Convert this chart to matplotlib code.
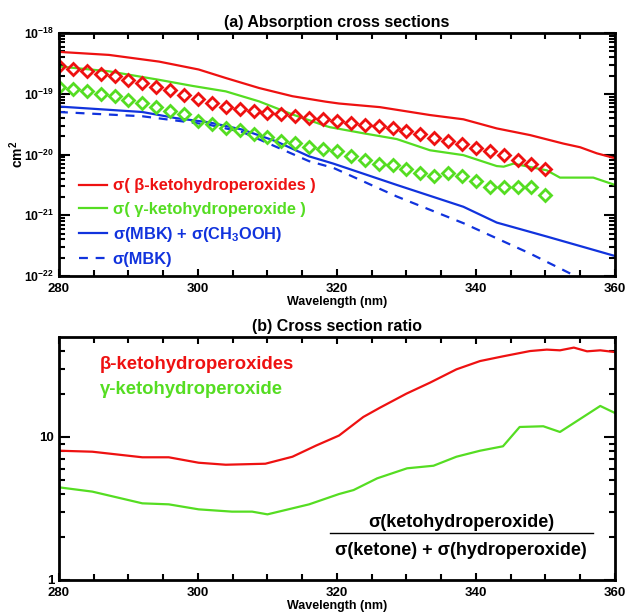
import numpy as np
import matplotlib
matplotlib.use("Agg")
import matplotlib.pyplot as plt
from matplotlib.ticker import LogLocator, MultipleLocator, FixedLocator, NullFormatter, FuncFormatter

plt.rcParams['font.family'] = ['Liberation Sans', 'DejaVu Sans']
plt.rcParams['font.weight'] = 'bold'
plt.rcParams['mathtext.fontset'] = 'custom'
plt.rcParams['mathtext.rm'] = 'Liberation Sans:bold'
plt.rcParams['mathtext.bf'] = 'Liberation Sans:bold'
plt.rcParams['mathtext.it'] = 'Liberation Sans:bold'

RED = '#EE1111'
GREEN = '#55DD22'
BLUE = '#1133DD'

# ---------------- Panel (a) data (log10 of cross section, cm^2) ----------------
beta_line_wl = [280, 287.2, 294.4, 300.1, 304, 308.8, 313.6, 318.4, 320.3, 326.2, 333.4, 338.2, 343.0, 347.8, 352.6, 355.0, 357.4, 360]
beta_line_log = [-18.31, -18.36, -18.47, -18.60, -18.74, -18.905, -19.04, -19.13, -19.16, -19.22, -19.35, -19.42, -19.57, -19.68, -19.82, -19.88, -19.98, -20.06]

gamma_line_wl = [280, 287.2, 294.4, 299.2, 304, 308.8, 313.6, 318.4, 319, 323.8, 328.6, 333.4, 338.2, 343, 344, 345.4, 350.2, 352.1, 356.9, 360]
gamma_line_log = [-18.55, -18.63, -18.77, -18.87, -18.96, -19.125, -19.34, -19.53, -19.55, -19.65, -19.745, -19.93, -20.01, -20.19, -20.20, -20.15, -20.26, -20.38, -20.38, -20.50]

mbk_ch3ooh_wl = [280, 292, 296.8, 301.6, 306.4, 311.2, 316, 319.5, 328.6, 338.2, 343, 350.2, 360]
mbk_ch3ooh_log = [-19.21, -19.30, -19.40, -19.47, -19.59, -19.78, -20.03, -20.15, -20.50, -20.86, -21.12, -21.35, -21.67]

mbk_wl = [280, 292, 296.8, 301.6, 306.4, 311.2, 316, 319.5, 328.6, 338.2, 347.8, 353.6, 356]
mbk_log = [-19.30, -19.37, -19.44, -19.51, -19.63, -19.87, -20.11, -20.22, -20.69, -21.13, -21.63, -21.96, -22.1]

diamond_wl = list(range(280, 351, 2))
beta_diamond_log = [-18.55, -18.59, -18.63, -18.67, -18.71, -18.77, -18.82, -18.88, -18.94, -19.015,
                    -19.09, -19.15, -19.22, -19.25, -19.29, -19.32, -19.34, -19.37, -19.40, -19.42,
                    -19.44, -19.48, -19.51, -19.53, -19.57, -19.61, -19.66, -19.72, -19.77, -19.83,
                    -19.89, -19.95, -20.01, -20.09, -20.16, -20.23]
gamma_diamond_log = [-18.88, -18.92, -18.96, -19.00, -19.04, -19.10, -19.15, -19.21, -19.29, -19.34,
                     -19.44, -19.49, -19.56, -19.60, -19.67, -19.71, -19.77, -19.81, -19.87, -19.91,
                     -19.95, -20.02, -20.09, -20.15, -20.18, -20.23, -20.30, -20.35, -20.30, -20.35,
                     -20.43, -20.53, -20.53, -20.53, -20.53, -20.66]

# ---------------- Panel (b) data (log10 of ratio) ----------------
beta_ratio_wl = [280, 284.8, 292, 295.8, 300.1, 304, 309.7, 313.6, 317, 320.3, 323.8, 326.2, 330.0, 333.4, 337.2, 340.6, 343.9, 347.8, 350.2, 352.1, 354.1, 356, 357.9, 360]
beta_ratio_log = [0.904, 0.897, 0.858, 0.858, 0.820, 0.806, 0.813, 0.862, 0.94, 1.01, 1.14, 1.205, 1.303, 1.380, 1.473, 1.531, 1.564, 1.601, 1.611, 1.606, 1.625, 1.599, 1.606, 1.594]

gamma_ratio_wl = [280, 284.8, 292, 295.8, 300.1, 304.9, 307.8, 310, 316, 320.3, 322.4, 325.8, 330.1, 333.9, 337.2, 340.6, 343.9, 346.3, 349.7, 352.1, 357.9, 360]
gamma_ratio_log = [0.648, 0.618, 0.536, 0.529, 0.494, 0.478, 0.478, 0.459, 0.529, 0.601, 0.629, 0.711, 0.781, 0.799, 0.862, 0.904, 0.935, 1.070, 1.075, 1.035, 1.217, 1.168]

xticks = [280, 300, 320, 340, 360]

fig = plt.figure(figsize=(6.26, 6.12), dpi=100)
ax1 = fig.add_axes([0.0942, 0.549, 0.888, 0.397])
ax2 = fig.add_axes([0.0942, 0.0523, 0.888, 0.397])

def p(v):
    return 10.0 ** np.asarray(v)

lw = 1.6
ax1.plot(beta_line_wl, p(beta_line_log), color=RED, lw=lw, label=r'σ( β-ketohydroperoxides )')
ax1.plot(gamma_line_wl, p(gamma_line_log), color=GREEN, lw=lw, label=r'σ( γ-ketohydroperoxide )')
ax1.plot(mbk_ch3ooh_wl, p(mbk_ch3ooh_log), color=BLUE, lw=lw, label=r'σ(MBK) + σ(CH$_3$OOH)')
ax1.plot(mbk_wl, p(mbk_log), color=BLUE, lw=lw, ls=(0, (4, 3.5)), label=r'σ(MBK)')
ax1.plot(diamond_wl, p(beta_diamond_log), ls='none', marker='D', ms=6.5, mfc='none', mec=RED, mew=2.0)
ax1.plot(diamond_wl, p(gamma_diamond_log), ls='none', marker='D', ms=6.5, mfc='none', mec=GREEN, mew=2.0)

ax1.set_yscale('log')
ax1.set_ylim(1e-22, 1e-18)
ax1.set_xlim(280, 360)

def logfmt(v, pos):
    e = int(round(np.log10(v)))
    return r'$\mathbf{10^{%d}}$' % e

ax1.yaxis.set_major_locator(LogLocator(base=10, numticks=10))
ax1.yaxis.set_minor_locator(LogLocator(base=10, subs=np.arange(2, 10), numticks=50))
ax1.yaxis.set_major_formatter(FuncFormatter(logfmt))
ax1.yaxis.set_minor_formatter(NullFormatter())
ax1.set_ylabel(r'cm$^2$', fontsize=10, fontweight='bold')
ax1.yaxis.set_label_coords(-0.06, 0.5)
ax1.set_xlabel('Wavelength (nm)', fontsize=9, fontweight='bold', labelpad=1)
ax1.set_title('(a) Absorption cross sections', fontsize=11.5, fontweight='bold', pad=4)

leg = ax1.legend(loc='lower left', bbox_to_anchor=(0.02, 0.0), frameon=False, fontsize=11.8,
                 handlelength=1.7, handletextpad=0.35, labelspacing=0.5, borderaxespad=0.15)
for txt, col in zip(leg.get_texts(), [RED, GREEN, BLUE, BLUE]):
    txt.set_color(col)
    txt.set_fontweight('bold')

ax2.plot(beta_ratio_wl, p(beta_ratio_log), color=RED, lw=lw)
ax2.plot(gamma_ratio_wl, p(gamma_ratio_log), color=GREEN, lw=lw)
ax2.set_yscale('log')
ax2.set_ylim(1, 50)
ax2.set_xlim(280, 360)
ax2.yaxis.set_major_locator(FixedLocator([1, 10]))
ax2.yaxis.set_minor_locator(FixedLocator([2, 3, 4, 5, 6, 7, 8, 9, 20, 30, 40]))
ax2.yaxis.set_major_formatter(FuncFormatter(lambda v, pos: '%d' % v))
ax2.yaxis.set_minor_formatter(NullFormatter())
ax2.set_xlabel('Wavelength (nm)', fontsize=9, fontweight='bold', labelpad=1)
ax2.set_title('(b) Cross section ratio', fontsize=11.5, fontweight='bold', pad=4)

ax2.text(0.073, 0.888, 'β-ketohydroperoxides', transform=ax2.transAxes, color=RED,
         fontsize=13.3, fontweight='bold', va='center', ha='left')
ax2.text(0.073, 0.782, 'γ-ketohydroperoxide', transform=ax2.transAxes, color=GREEN,
         fontsize=13.3, fontweight='bold', va='center', ha='left')
ax2.text(0.723, 0.235, 'σ(ketohydroperoxide)', transform=ax2.transAxes, color='black',
         fontsize=13, fontweight='bold', va='center', ha='center')
ax2.plot([0.487, 0.960], [0.193, 0.193], transform=ax2.transAxes, color='black', lw=1.0)
ax2.text(0.723, 0.122, 'σ(ketone) + σ(hydroperoxide)', transform=ax2.transAxes, color='black',
         fontsize=13, fontweight='bold', va='center', ha='center')

for ax in (ax1, ax2):
    ax.xaxis.set_major_locator(FixedLocator(xticks))
    ax.xaxis.set_minor_locator(MultipleLocator(5))
    ax.tick_params(which='both', direction='in', top=True, right=True, labelsize=9.5, width=1.5)
    ax.tick_params(which='major', length=8)
    ax.tick_params(which='minor', length=4)
    ax.tick_params(axis='x', which='major', length=5, pad=5)
    for lab in ax.get_xticklabels() + ax.get_yticklabels():
        lab.set_fontweight('bold')
    for s in ax.spines.values():
        s.set_linewidth(2.0)
ax1.tick_params(axis='y', labelsize=8.8)

fig.savefig('out.png', dpi=100)
